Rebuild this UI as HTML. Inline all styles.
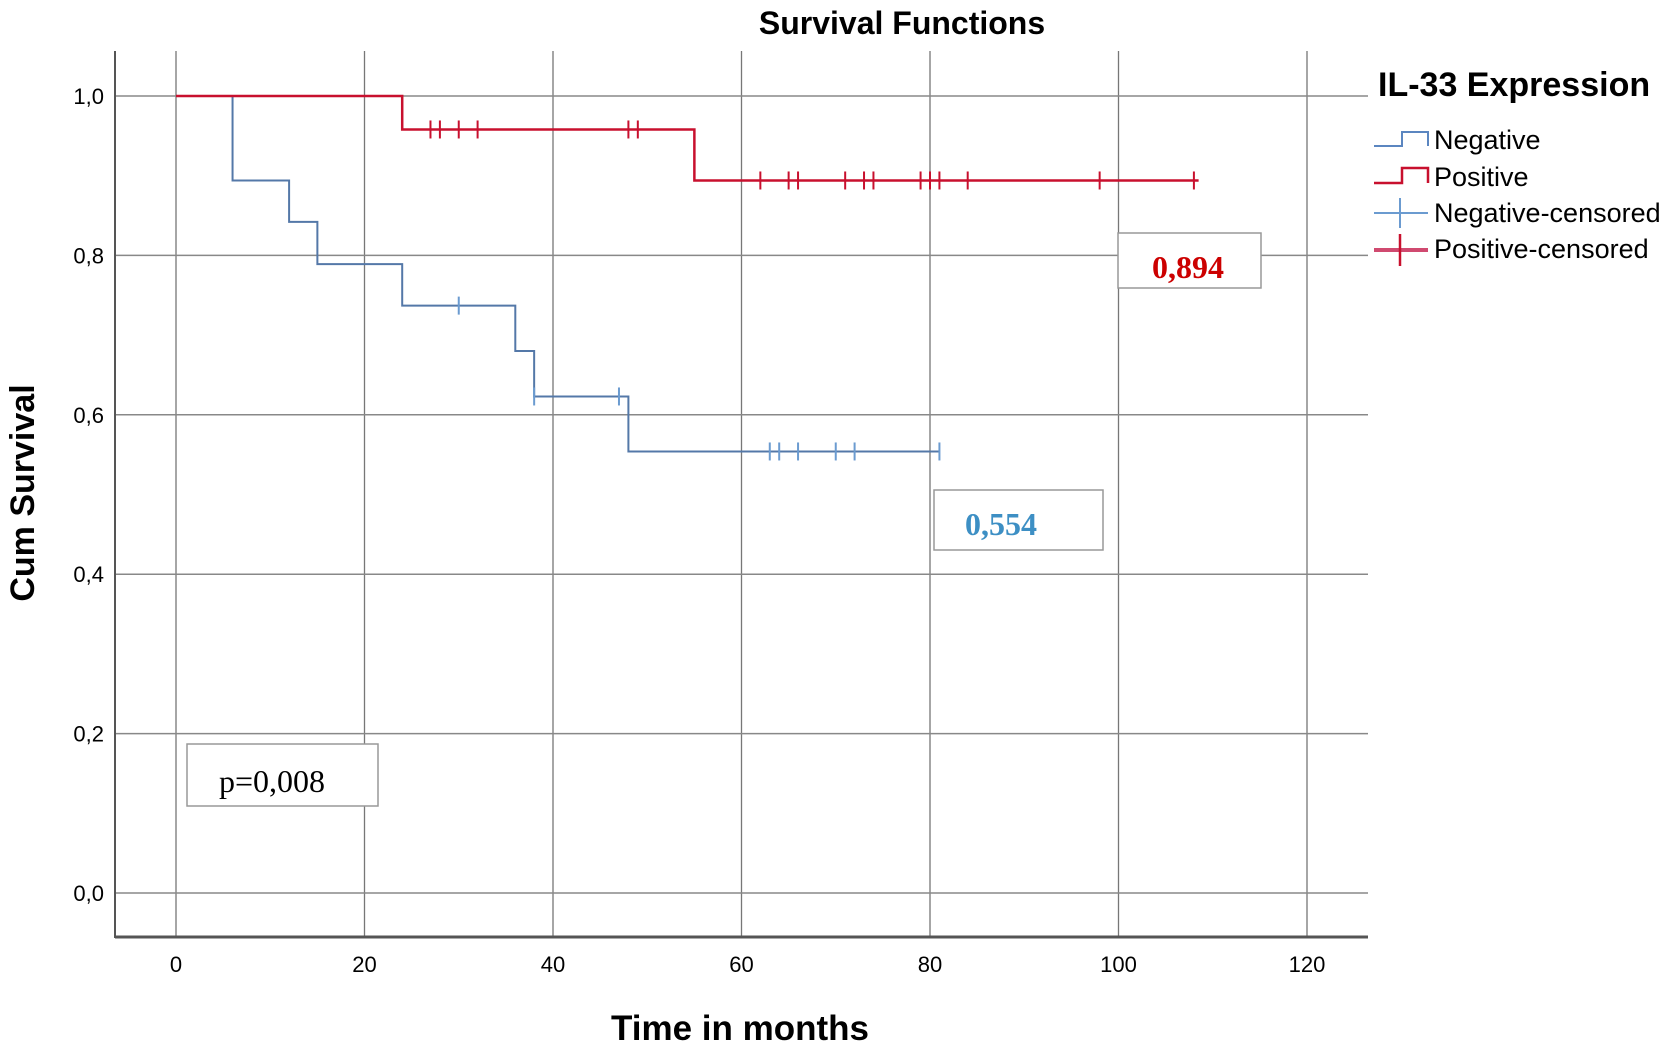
<!DOCTYPE html>
<html><head><meta charset="utf-8"><style>
body{margin:0;background:#fff;}
svg{display:block;font-family:"Liberation Sans",sans-serif;}
</style></head><body>
<svg id="chart" width="1675" height="1048" viewBox="0 0 1675 1048">
<text x="902" y="34" text-anchor="middle" font-size="32" font-weight="bold">Survival Functions</text>
<g id="grid"></g>
<g id="axes"></g>
<g id="series"></g>
<text transform="translate(34,493) rotate(-90)" text-anchor="middle" font-size="34" font-weight="bold">Cum Survival</text>
<text x="740" y="1040" text-anchor="middle" font-size="35" font-weight="bold">Time in months</text>
<g>
<text x="1378" y="96" font-size="34" font-weight="bold">IL-33 Expression</text>
<g><path d="M1374,146 H1402 V132 H1428 V146" fill="none" stroke="#5b86c0" stroke-width="2"/><text x="1434" y="149" font-size="27">Negative</text></g>
<g><path d="M1374,183 H1402 V168 H1428 V183" fill="none" stroke="#c8102e" stroke-width="2.5"/><text x="1434" y="186" font-size="27">Positive</text></g>
<g><path d="M1374,213 H1428 M1400,198 V228" stroke="#6b9bd0" stroke-width="2"/><text x="1434" y="222" font-size="27">Negative-censored</text></g>
<g><path d="M1374,250 H1428" stroke="#d04a70" stroke-width="4"/><path d="M1400,234 V266" stroke="#c8102e" stroke-width="2.5"/><text x="1434" y="258" font-size="27">Positive-censored</text></g>
</g>
<g><rect x="1118" y="233" width="143" height="55" fill="#fff" stroke="#999" stroke-width="1.5"/><text x="1188" y="278" text-anchor="middle" font-family="Liberation Serif,serif" font-size="32" font-weight="bold" fill="#cc0000">0,894</text></g>
<g><rect x="934" y="490" width="169" height="60" fill="#fff" stroke="#999" stroke-width="1.5"/><text x="1001" y="535" text-anchor="middle" font-family="Liberation Serif,serif" font-size="32" font-weight="bold" fill="#3d8fc4">0,554</text></g>
<g><rect x="187" y="744" width="191" height="62" fill="#fff" stroke="#999" stroke-width="1.5"/><text x="272" y="792" text-anchor="middle" font-family="Liberation Serif,serif" font-size="32">p=0,008</text></g>
</svg>
<script>
const xTicks=[0,20,40,60,80,100,120];
const yTicks=[0,0.2,0.4,0.6,0.8,1.0];
const yTickLabels=["0,0","0,2","0,4","0,6","0,8","1,0"];
const negTimes=[0,6,12,15,24,36,38,48,81];
const negSurv=[1.0,0.894,0.842,0.789,0.737,0.680,0.623,0.554,0.554];
const negCensored=[30,38,47,63,64,66,70,72,81];
const posTimes=[0,24,55,108.5];
const posSurv=[1.0,0.958,0.894,0.894];
const posCensored=[27,28,30,32,48,49,62,65,66,71,73,74,79,80,81,84,98,108];
const NS='http://www.w3.org/2000/svg';
const X=t=>176+t*9.425;
const Y=v=>893-v*797;
function mk(tag,attrs,parent){const e=document.createElementNS(NS,tag);for(const k in attrs)e.setAttribute(k,attrs[k]);parent.appendChild(e);return e;}
const grid=document.getElementById('grid'),axes=document.getElementById('axes'),ser=document.getElementById('series');
xTicks.forEach(t=>{
 const l=mk('line',{x1:X(t),x2:X(t),y1:51,y2:937,stroke:'#777','stroke-width':1.3},grid);
 
 
 const tx=mk('text',{x:X(t),y:972,'text-anchor':'middle','font-size':22},axes);tx.textContent=t;
 
 
});
yTicks.forEach((v,i)=>{
 const l=mk('line',{x1:115,x2:1368,y1:Y(v),y2:Y(v),stroke:'#888','stroke-width':1.5},grid);
 
 
 const tx=mk('text',{x:104,y:Y(v)+8,'text-anchor':'end','font-size':22},axes);tx.textContent=yTickLabels[i];
 
 
});
const ya=mk('line',{x1:115,x2:115,y1:51,y2:938,stroke:'#555','stroke-width':2},axes);


const xa=mk('line',{x1:115,x2:1368,y1:937,y2:937,stroke:'#555','stroke-width':3},axes);


function step(times,surv,color,w,name){
 let d='M'+X(times[0])+','+Y(surv[0]);
 for(let i=1;i<times.length;i++){d+=' H'+X(times[i])+' V'+Y(surv[i]);}
 const p=mk('path',{d:d,fill:'none',stroke:color,'stroke-width':w},ser);
 
 
}
function survAt(times,surv,t){let s=surv[0];for(let i=0;i<times.length;i++){if(times[i]<=t)s=surv[i];}return s;}
function cens(arr,times,surv,color,name){
 arr.forEach(t=>{const v=survAt(times,surv,t);
  const l=mk('line',{x1:X(t),x2:X(t),y1:Y(v)-9,y2:Y(v)+9,stroke:color,'stroke-width':2},ser);
  
  
 });
}
step(negTimes,negSurv,'#5478a8',2,'negative-curve');
step(posTimes,posSurv,'#c8102e',2.5,'positive-curve');
cens(negCensored,negTimes,negSurv,'#6b9bd0','negative-censored-mark');
cens(posCensored,posTimes,posSurv,'#c8102e','positive-censored-mark');
</script>
</body></html>
